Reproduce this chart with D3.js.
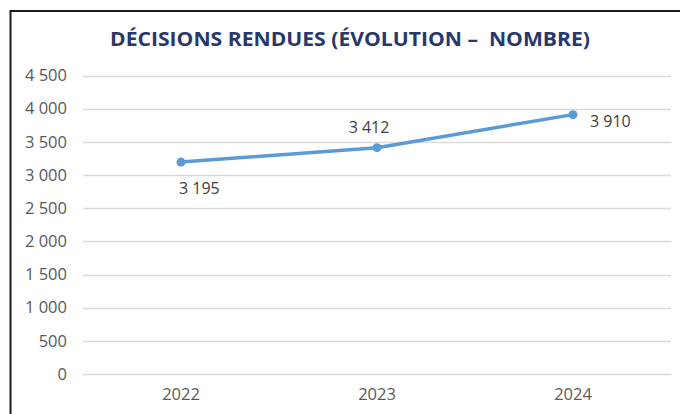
<!DOCTYPE html>
<html>
<head>
<meta charset="utf-8">
<script src="https://cdn.jsdelivr.net/npm/d3@7"></script>
<style>
  html, body { margin: 0; padding: 0; background: #fff; }
  svg { display: block; font-family: "Open Sans", "Noto Sans", sans-serif; }
</style>
</head>
<body>
<svg id="chart" width="680" height="414"></svg>
<script>
// Decisions rendered per year
const years = ["2022", "2023", "2024"];
const decisions = [3195, 3412, 3910];
const labelPlacement = ["below", "above", "right"];
const yTicks = [0, 500, 1000, 1500, 2000, 2500, 3000, 3500, 4000, 4500];
const title = "DÉCISIONS RENDUES (ÉVOLUTION –  NOMBRE)";

const fr = d3.formatLocale({ decimal: ",", thousands: "\u00a0", grouping: [3], currency: ["", " €"] });
const fmt = fr.format(",d");

const svg = d3.select("#chart");

// frame of the chart area
svg.append("path")
  .attr("d", "M10.5,414 V11 H680")
  .attr("fill", "none")
  .attr("stroke", "#1b1b1b")
  .attr("stroke-width", 2);

// title
svg.append("text")
  .attr("x", 110)
  .attr("y", 46)
  .attr("textLength", 480)
  .attr("lengthAdjust", "spacingAndGlyphs")
  .attr("font-size", 19)
  .attr("font-weight", 700)
  .attr("fill", "#27386b")
  .attr("xml:space", "preserve")
  .text(title);

const x = d3.scaleBand().domain(years).range([83, 671]);
const y = d3.scaleLinear().domain([0, 4500]).range([374, 75.5]);

// gridlines
svg.append("g")
  .selectAll("line")
  .data(yTicks)
  .join("line")
  .attr("x1", 83)
  .attr("x2", 671)
  .attr("y1", d => Math.round(y(d)) + 0.5)
  .attr("y2", d => Math.round(y(d)) + 0.5)
  .attr("stroke", "#d9d9d9")
  .attr("stroke-width", 1.5);

// y axis labels
const yAxis = d3.axisLeft(y).tickValues(yTicks).tickFormat(fmt).tickSize(0).tickPadding(0);
const gy = svg.append("g").attr("transform", "translate(67,0)").call(yAxis);
gy.select(".domain").remove();
gy.selectAll("text")
  .attr("font-family", "Open Sans, sans-serif")
  .attr("font-size", 16.5)
  .attr("fill", "#595959");

// x axis labels
const xAxis = d3.axisBottom(x).tickSize(0).tickPadding(0);
const gx = svg.append("g").attr("transform", "translate(0,388)").call(xAxis);
gx.select(".domain").remove();
gx.selectAll("text")
  .attr("font-family", "Open Sans, sans-serif")
  .attr("font-size", 16.5)
  .attr("fill", "#595959");

const pts = years.map((yr, i) => ({ year: yr, value: decisions[i], pos: labelPlacement[i] }));
const cx = d => x(d.year) + x.bandwidth() / 2;

// line
svg.append("path")
  .datum(pts)
  .attr("fill", "none")
  .attr("stroke", "#5b9bd5")
  .attr("stroke-width", 3.5)
  .attr("stroke-linejoin", "round")
  .attr("d", d3.line().x(cx).y(d => y(d.value)));

// markers
svg.append("g")
  .selectAll("circle")
  .data(pts)
  .join("circle")
  .attr("cx", cx)
  .attr("cy", d => y(d.value))
  .attr("r", 4.5)
  .attr("fill", "#5b9bd5");

// value labels
const offsets = {
  below: { dx: -2, dy: 32, anchor: "start" },
  above: { dx: -8, dy: -15, anchor: "middle" },
  right: { dx: 17, dy: 12, anchor: "start" }
};
svg.append("g")
  .selectAll("text")
  .data(pts)
  .join("text")
  .attr("x", d => cx(d) + offsets[d.pos].dx)
  .attr("y", d => y(d.value) + offsets[d.pos].dy)
  .attr("text-anchor", d => offsets[d.pos].anchor)
  .attr("font-size", 16)
  .attr("fill", "#404040")
  .text(d => fmt(d.value));
</script>
</body>
</html>
